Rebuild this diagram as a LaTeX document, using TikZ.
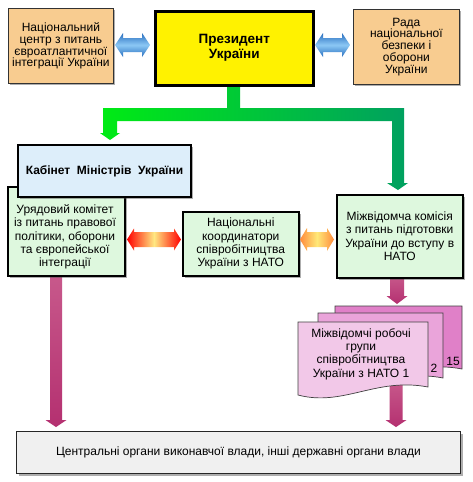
\documentclass[tikz,border=0pt]{standalone}
\usepackage{fontspec}
\setmainfont{Liberation Sans}
\usetikzlibrary{shadows}
\definecolor{orng}{RGB}{248,204,144}
\definecolor{lgrn}{RGB}{222,248,222}
\definecolor{lblu}{RGB}{221,238,250}
\definecolor{grnA}{RGB}{0,235,20}
\definecolor{grnB}{RGB}{0,160,96}
\definecolor{bluD}{RGB}{40,110,190}
\definecolor{bluL}{RGB}{140,200,245}
\definecolor{pnkA}{RGB}{200,90,140}
\definecolor{pnkB}{RGB}{180,48,112}
\definecolor{docA}{RGB}{224,128,200}
\definecolor{docB}{RGB}{234,164,218}
\definecolor{docC}{RGB}{242,200,232}
\newcommand\harr[7]{\path[#7] (#1,#3) -- ({#1+#6},{#3-#5}) -- ({#1+#6},{#3-#4}) -- ({#2-#6},{#3-#4}) -- ({#2-#6},{#3-#5}) -- (#2,#3) -- ({#2-#6},{#3+#5}) -- ({#2-#6},{#3+#4}) -- ({#1+#6},{#3+#4}) -- ({#1+#6},{#3+#5}) -- cycle;}
\newcommand\pinkdown[6]{\path[top color=pnkA, bottom color=pnkB] ({#1-#4},#2) -- ({#1+#4},#2) -- ({#1+#4},{#3-#6}) -- ({#1+#5},{#3-#6}) -- (#1,#3) -- ({#1-#5},{#3-#6}) -- ({#1-#4},{#3-#6}) -- cycle;}
\newcommand\docpath[5]{\path[fill=#5, draw=black!75, line width=0.7pt] (#1,#2) -- ({#1+#3},#2) -- ({#1+#3},{#2+#4-8}) .. controls ({#1+0.6*#3},{#2+#4-18}) and ({#1+0.35*#3},{#2+#4+12}) .. (#1,{#2+#4}) -- cycle;}
\tikzset{
  bx/.style={draw, align=center, inner sep=1pt, anchor=north west,
    drop shadow={shadow xshift=2pt, shadow yshift=-2pt, opacity=0.45, fill=black!70}},
  txt/.style={align=center, inner sep=0pt},
  mid/.style={font=\fontsize{12}{13.3}\selectfont},
}
\begin{document}
\begin{tikzpicture}[x=1pt, y=-1pt, font=\fontsize{12}{11.8}\selectfont]
\useasboundingbox[fill=white] (0,0) rectangle (473,482);

% green connector
\path[left color=grnA, right color=grnB]
  (227,84) -- (240,84) -- (240,108) -- (404,108) -- (404,183) -- (408,183) -- (398,190)
  -- (387,183) -- (392,183) -- (392,121) -- (117,121) -- (117,133) -- (120,133)
  -- (110,140) -- (100,133) -- (103,133) -- (103,108) -- (227,108) -- cycle;

% pink arrows
\pinkdown{56}{270}{427}{6}{10.5}{7}
\pinkdown{397}{275}{304}{7}{10.5}{8}
\pinkdown{396}{380}{427}{6.5}{10.5}{7}

% top row
\node[bx, fill=orng, draw=black!80, line width=0.8pt, minimum width=105pt, minimum height=75pt] (nc) at (8,8)
  {Національний\\центр з питань\\євроатлантичної\\інтеграції України};
\node[bx, fill=yellow, line width=2.5pt, minimum width=158pt, minimum height=74pt, font=\fontsize{13.5}{15}\selectfont\bfseries] (pres) at (154,10)
  {Президент\\України};
\node[bx, fill=orng, draw=black!80, line width=0.8pt, minimum width=106pt, minimum height=75pt] (rnbo) at (353,9)
  {Рада\\національної\\безпеки і\\оборони\\України};

\harr{115}{150}{45}{7}{12}{8}{top color=bluD, bottom color=bluD, middle color=bluL}
\harr{315}{350}{45}{7}{12}{8}{top color=bluD, bottom color=bluD, middle color=bluL}

% middle row
\node[bx, fill=lgrn, line width=1.5pt, minimum width=117pt, minimum height=89pt] (ury) at (7,186) {};
\node[txt, mid] (urytxt) at (65,237) {Урядовий комітет\\із питань правової\\політики, оборони\\та європейської\\інтеграції};
\node[bx, fill=lblu, line width=2pt, minimum width=173pt, minimum height=52pt, font=\fontsize{12}{13}\selectfont\bfseries] (kab) at (17,144)
  {Кабінет~ Міністрів~ України};
\node[bx, mid, fill=lgrn, line width=1.5pt, minimum width=116pt, minimum height=64pt] (nk) at (182,211)
  {Національні\\координатори\\співробітництва\\України з НАТО};
\node[bx, mid, fill=lgrn, line width=1.5pt, minimum width=126pt, minimum height=83pt] (mk) at (336,194)
  {Міжвідомча комісія\\з питань підготовки\\України до вступу в\\НАТО};

\harr{127}{181}{239.5}{7.5}{11}{7}{left color=red, right color=red, middle color={rgb,255:red,255;green,232;blue,130}}
\harr{300}{334}{239.5}{7.5}{11.5}{7}{left color={rgb,255:red,255;green,140;blue,60}, right color={rgb,255:red,255;green,140;blue,60}, middle color={rgb,255:red,255;green,232;blue,120}}

% documents
\docpath{335}{306}{127}{71}{docA}
\docpath{318}{313}{125}{73}{docB}
\docpath{298}{322}{130}{73}{docC}
\node[txt] (n15) at (453,361) {15};
\node[txt] (n2) at (434,368) {2};
\node[txt, mid] (mrg) at (361,354) {Міжвідомчі робочі\\групи\\співробітництва\\України з НАТО 1};

% bottom
\node[bx, fill=black!6, draw=black!85, line width=1pt, minimum width=444pt, minimum height=42pt] (co) at (16,431)
  {Центральні органи виконавчої влади, інші державні органи влади};
\end{tikzpicture}
\end{document}
